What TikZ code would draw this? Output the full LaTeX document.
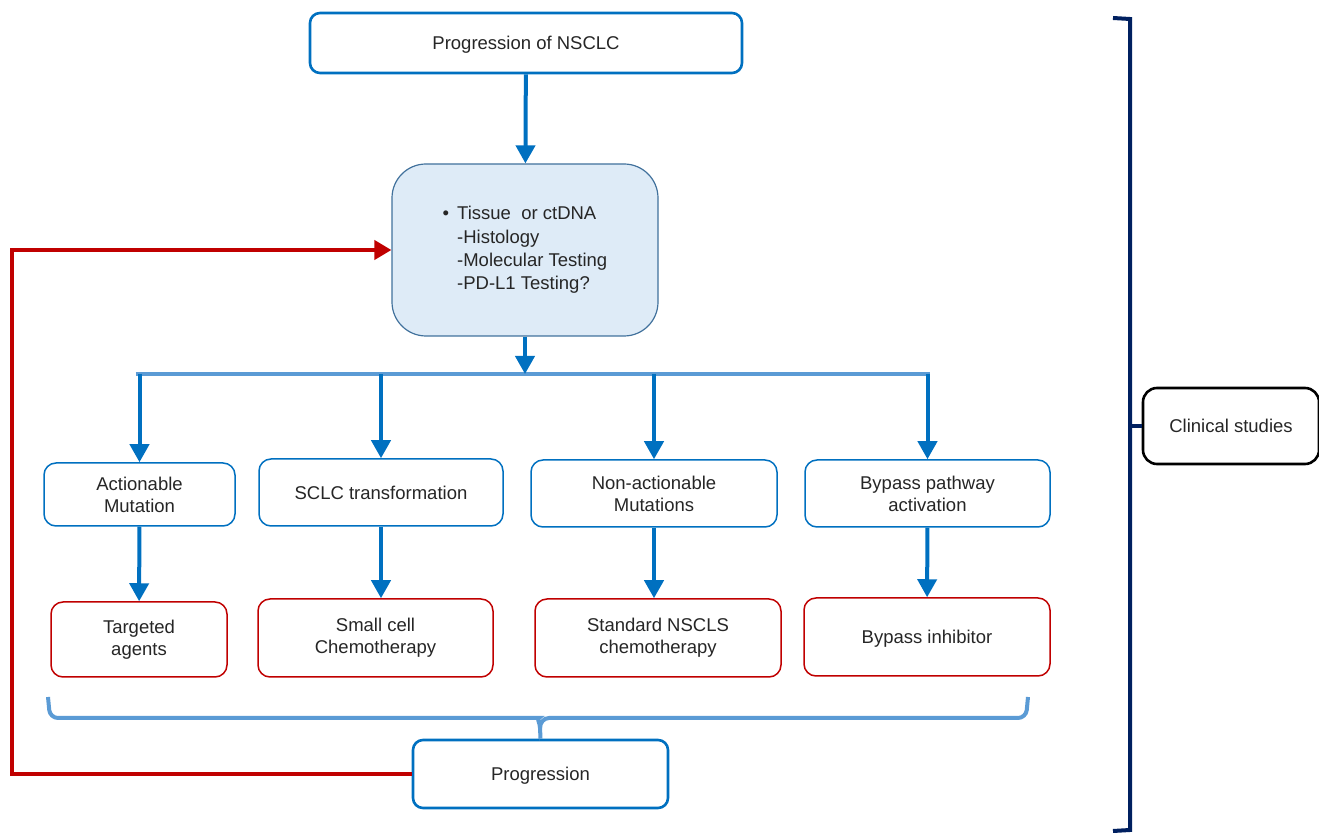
\documentclass[tikz,border=0pt]{standalone}
\usepackage{fontspec}
\setmainfont{Liberation Sans}
\usetikzlibrary{arrows.meta}
\definecolor{nsblue}{RGB}{0,112,192}
\definecolor{barblue}{RGB}{91,155,213}
\definecolor{tisfill}{RGB}{222,235,247}
\definecolor{tisline}{RGB}{65,113,156}
\definecolor{nsred}{RGB}{192,0,0}
\definecolor{navy}{RGB}{0,32,96}
\definecolor{ink}{RGB}{38,38,38}
\begin{document}
\begin{tikzpicture}[x=0.5pt,y=-0.5pt,
  >={Triangle[width=9.5pt,length=9pt]},
  font=\fontsize{9.25}{11}\selectfont, text=ink,
  box/.style={draw=nsblue,line width=0.75pt,rounded corners=6pt,fill=white,
    align=center,inner sep=0pt},
  topbox/.style={box,line width=1.3pt,rounded corners=5pt,text depth=0pt},
  rx/.style={box,draw=nsred},
  flow/.style={->,nsblue,line width=2pt},
  back/.style={->,nsred,line width=2pt,>={Triangle[width=9.5pt,length=8.5pt]}},
  brace/.style={barblue,line width=2pt}]
\useasboundingbox (0,0) rectangle (1319,833);

\node[topbox,minimum width=216pt,minimum height=30pt] (top) at (526,43) {Progression of NSCLC};
\node[box,draw=tisline,line width=0.6pt,fill=tisfill,rounded corners=17pt,
  minimum width=133pt,minimum height=86pt,align=left,
  font=\fontsize{9.25}{11.7}\selectfont] (tis) at (525,250)
  {\textbullet\hspace{4pt}Tissue\ \ or ctDNA\\
   \hspace{7.2pt}-Histology\\
   \hspace{7.2pt}-Molecular Testing\hspace*{6pt}\\
   \hspace{7.2pt}-PD-L1 Testing?};
\coordinate (hub) at (525,374);

\node[box,minimum width=95.5pt,minimum height=31.5pt] (act) at (139.5,494.5) {Actionable\\Mutation};
\node[box,minimum width=122pt,minimum height=33.5pt,text depth=0pt] (sclc) at (381,492.5) {SCLC transformation};
\node[box,minimum width=123pt,minimum height=33.5pt] (nonact) at (654,493.5) {Non-actionable\\Mutations};
\node[box,minimum width=122.5pt,minimum height=33.5pt] (byp) at (927.5,493.5) {Bypass pathway\\activation};

\node[rx,minimum width=88pt,minimum height=37.5pt] (tgt) at (139,639.5) {Targeted\\agents};
\node[rx,minimum width=117.5pt,minimum height=39pt] (small) at (375.5,638) {Small cell\\Chemotherapy};
\node[rx,minimum width=123pt,minimum height=39pt] (std) at (658,638) {Standard NSCLS\\chemotherapy};
\node[rx,minimum width=123pt,minimum height=39pt,text depth=0pt] (inh) at (927,637) {Bypass inhibitor};

\node[topbox,minimum width=127.5pt,minimum height=34pt] (prog) at (540.5,774) {Progression};
\node[topbox,draw=black,rounded corners=7pt,minimum width=88pt,minimum height=38pt] (clin) at (1231,426) {Clinical studies};

\draw[flow] (top) -- (tis);
\draw[brace] ([xshift=-2pt]act.north |- hub) -- ([xshift=1pt]byp.north |- hub);
\draw[flow] (tis) -- (hub);
\foreach \n in {act,sclc,nonact,byp}
  \draw[flow] (\n.north |- hub) -- (\n.north);
\draw[flow] (act) -- (tgt);
\draw[flow] (sclc.south) -- (sclc.south |- small.north);
\draw[flow] (nonact.south) -- (nonact.south |- std.north);
\draw[flow] (byp) -- (inh);

% brace under the treatments
\draw[brace,rounded corners=4pt] (48,697) -- (50,718) -- (531,718)
  [sharp corners] to[out=0,in=90] (540,728) to[out=90,in=180] (549,718)
  [rounded corners=4pt] -- (1026,718) -- (1028,697);
\draw[brace] (540,727) -- (prog.north);

% back to testing
\coordinate (lp) at (12,774);
\draw[back] (prog.west) -- (lp) |- (tis.west);

% clinical studies bracket
\draw[navy,line width=2pt] (1113,18) -- (1130,19) -- (1130,830) -- (1113,831);
\draw[navy,line width=2pt] (1130,426) -- (clin.west);
\end{tikzpicture}
\end{document}
